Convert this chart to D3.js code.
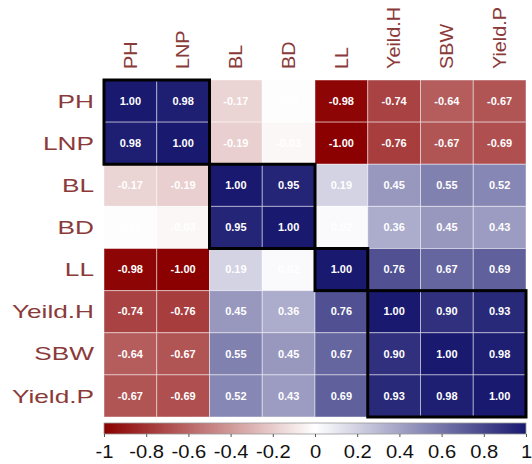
<!DOCTYPE html>
<html>
<head>
<meta charset="utf-8">
<script src="https://cdn.jsdelivr.net/npm/d3@7"></script>
<style>
  body { margin: 0; background: #fff; }
  text { font-family: "Liberation Sans", Arial, sans-serif; }
</style>
</head>
<body>
<div id="chart"></div>
<script>
// variables (rows and columns share the same order)
var vars = ["PH", "LNP", "BL", "BD", "LL", "Yeild.H", "SBW", "Yield.P"];

// correlation rows
var rowPH     = [1.00, 0.98, -0.17, 0.01, -0.98, -0.74, -0.64, -0.67];
var rowLNP    = [0.98, 1.00, -0.19, -0.03, -1.00, -0.76, -0.67, -0.69];
var rowBL     = [-0.17, -0.19, 1.00, 0.95, 0.19, 0.45, 0.55, 0.52];
var rowBD     = [0.01, -0.03, 0.95, 1.00, 0.02, 0.36, 0.45, 0.43];
var rowLL     = [-0.98, -1.00, 0.19, 0.02, 1.00, 0.76, 0.67, 0.69];
var rowYieldH = [-0.74, -0.76, 0.45, 0.36, 0.76, 1.00, 0.90, 0.93];
var rowSBW    = [-0.64, -0.67, 0.55, 0.45, 0.67, 0.90, 1.00, 0.98];
var rowYieldP = [-0.67, -0.69, 0.52, 0.43, 0.69, 0.93, 0.98, 1.00];

// hierarchical clusters: first and last variable of each box
var clusters = [["PH", "LNP"], ["BL", "BD"], ["LL", "LL"], ["Yeild.H", "Yield.P"]];

// colour bar ticks
var barTicks = [-1, -0.8, -0.6, -0.4, -0.2, 0, 0.2, 0.4, 0.6, 0.8, 1];

var width = 532, height = 464;
var gridL = 104, gridR = 526, gridT = 80, gridB = 417;

var matrix = [rowPH, rowLNP, rowBL, rowBD, rowLL, rowYieldH, rowSBW, rowYieldP];
var cells = [];
matrix.forEach(function(row, i) {
  row.forEach(function(v, j) {
    cells.push({ r: vars[i], c: vars[j], v: v });
  });
});

var svg = d3.select("#chart").append("svg")
  .attr("width", width)
  .attr("height", height);

var x = d3.scaleBand().domain(vars).range([gridL, gridR]);
var y = d3.scaleBand().domain(vars).range([gridT, gridB]);

var color = d3.scaleLinear()
  .domain([-1, 0, 1])
  .range(["#8b0000", "#ffffff", "#191970"]);

// cells
svg.append("g").selectAll("rect")
  .data(cells)
  .enter().append("rect")
  .attr("x", function(d) { return x(d.c); })
  .attr("y", function(d) { return y(d.r); })
  .attr("width", x.bandwidth())
  .attr("height", y.bandwidth())
  .attr("fill", function(d) { return color(d.v); })
  .attr("stroke", "rgba(255,255,255,0.45)")
  .attr("stroke-width", 1);

// coefficients (plain hyphen for negatives, like the original)
svg.append("g").selectAll("text")
  .data(cells)
  .enter().append("text")
  .attr("transform", function(d) {
    return "translate(" + (x(d.c) + x.bandwidth() / 2) + "," + (y(d.r) + y.bandwidth() / 2) + ")scale(1.1,1)";
  })
  .attr("text-anchor", "middle")
  .attr("dominant-baseline", "central")
  .attr("fill", "#fff")
  .attr("font-size", 10)
  .attr("font-weight", "bold")
  .text(function(d) { return d.v.toFixed(2); });

// cluster boxes
svg.append("g").selectAll("rect")
  .data(clusters)
  .enter().append("rect")
  .attr("x", function(d) { return x(d[0]); })
  .attr("y", function(d) { return y(d[0]); })
  .attr("width", function(d) { return x(d[1]) + x.bandwidth() - x(d[0]); })
  .attr("height", function(d) { return y(d[1]) + y.bandwidth() - y(d[0]); })
  .attr("fill", "none")
  .attr("stroke", "#000")
  .attr("stroke-width", 3);

// row labels
svg.append("g").selectAll("text")
  .data(vars)
  .enter().append("text")
  .attr("transform", function(d) {
    return "translate(" + (gridL - 10) + "," + (y(d) + y.bandwidth() / 2) + ")scale(1.38,1)";
  })
  .attr("text-anchor", "end")
  .attr("dominant-baseline", "central")
  .attr("fill", "#8b3a3a")
  .attr("font-size", 19)
  .text(function(d) { return d; });

// column labels (vertical)
svg.append("g").selectAll("text")
  .data(vars)
  .enter().append("text")
  .attr("transform", function(d) {
    return "translate(" + (x(d) + x.bandwidth() / 2) + "," + (gridT - 11) + ")rotate(-90)scale(1.1,1)";
  })
  .attr("text-anchor", "start")
  .attr("dominant-baseline", "central")
  .attr("fill", "#8b3a3a")
  .attr("font-size", 18)
  .text(function(d) { return d; });

// colour bar
var barT = 423, barH = 11;
var bx = d3.scaleLinear().domain([-1, 1]).range([gridL, gridR]);

var grad = svg.append("defs").append("linearGradient")
  .attr("id", "cbar")
  .attr("x1", "0%").attr("x2", "100%");
grad.selectAll("stop")
  .data(color.domain())
  .enter().append("stop")
  .attr("offset", function(d) { return ((d + 1) / 2 * 100) + "%"; })
  .attr("stop-color", function(d) { return color(d); });

svg.append("rect")
  .attr("x", bx(-1))
  .attr("y", barT)
  .attr("width", bx(1) - bx(-1))
  .attr("height", barH)
  .attr("fill", "url(#cbar)")
  .attr("stroke", "#999")
  .attr("stroke-width", 0.8);

var axis = d3.axisBottom(bx)
  .tickValues(barTicks)
  .tickSize(3)
  .tickPadding(8)
  .tickFormat(function(d) { return String(d); });

var ag = svg.append("g")
  .attr("transform", "translate(0," + (barT + barH) + ")")
  .call(axis);
ag.select(".domain").remove();
ag.selectAll(".tick line").attr("stroke", "#555");
ag.selectAll(".tick text")
  .attr("fill", "#111")
  .attr("font-size", 18)
  .attr("transform", "scale(1.12,1)")
  .attr("font-family", "Liberation Sans, Arial, sans-serif");
</script>
</body>
</html>
